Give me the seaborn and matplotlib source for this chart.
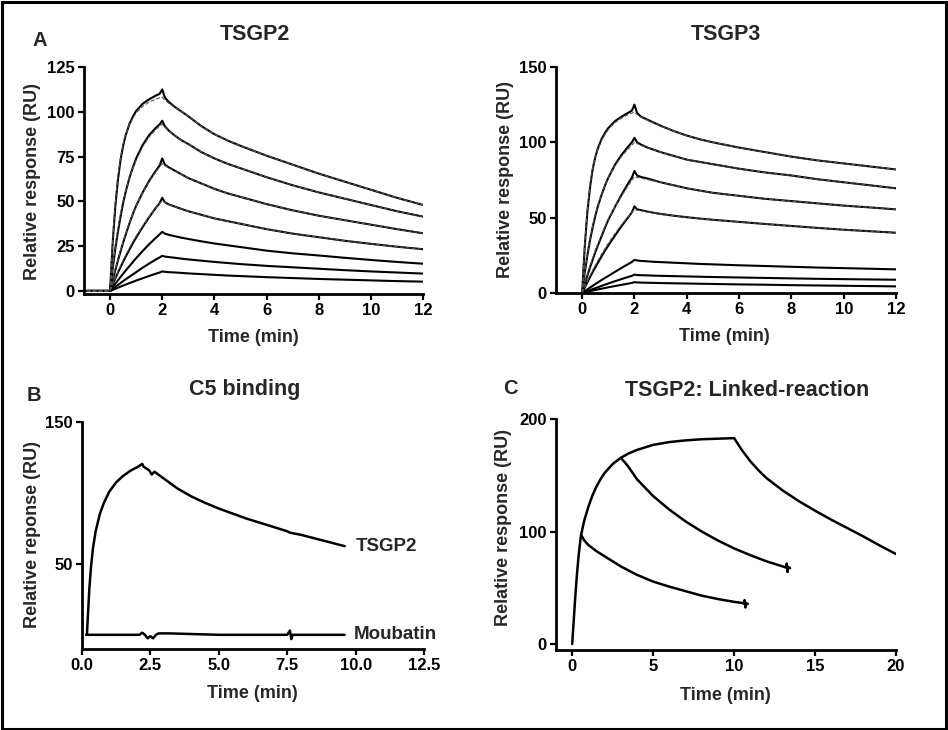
import numpy as np
import pandas as pd
import matplotlib
matplotlib.use('Agg')
import matplotlib.pyplot as plt
import seaborn as sns
from matplotlib.patches import Rectangle

# ---------------- data ----------------
# Panel A, TSGP2 sensorgrams (time in min, response in RU)
t_tsgp2 = [-0.9, 0, 0.05, 0.1, 0.2, 0.3, 0.4, 0.5, 0.6, 0.75, 0.9, 1.0, 1.25, 1.5, 1.75, 1.9, 2.0,
           2.1, 2.25, 2.5, 2.75, 3, 3.5, 4, 4.5, 5, 6, 7, 8, 9, 10, 11, 12]
tsgp2_c1 = [0, 0, 14, 27, 47, 62, 73, 81, 87, 93.5, 98, 100.5, 104.5, 107, 109, 110, 112.5,
            108, 105.5, 102.5, 100, 97.5, 92, 87.5, 84, 81, 75.5, 70.5, 65.5, 61, 56.5, 52, 48]
tsgp2_c2 = [0, 0, 6.5, 12.5, 23.5, 33, 41.5, 49, 55.5, 63.5, 70, 74, 81.5, 87, 91, 93, 95,
            92, 89.5, 86.5, 84, 82, 77.5, 74, 71, 68.5, 63.5, 59, 55, 51.5, 48, 44.5, 41.5]
tsgp2_c3 = [0, 0, 3, 6, 11.5, 17, 22, 27, 31.5, 38, 44, 47.5, 55, 61.5, 67, 70, 74,
            70.5, 69, 67, 65, 63, 60, 57, 54.5, 52.5, 48.5, 45, 42, 39.5, 37, 34.5, 32.2]
tsgp2_c4 = [0, 0, 1.8, 3.5, 7, 10.2, 13.3, 16.3, 19.2, 23.3, 27.3, 29.8, 35.7, 41.2, 46.3, 49, 52,
            49.5, 48.3, 47, 45.7, 44.5, 42.5, 40.5, 39, 37.5, 34.5, 32, 30, 28, 26.3, 24.7, 23.3]
tsgp2_c5 = [0, 0, 1, 2, 4, 5.9, 7.8, 9.6, 11.4, 14, 16.6, 18.3, 22.3, 26.1, 29.6, 31.6, 33,
            32, 31.3, 30.5, 29.7, 29, 27.7, 26.5, 25.5, 24.5, 22.5, 21, 19.8, 18.5, 17.3, 16.2, 15.2]
tsgp2_c6 = [0, 0, 0.55, 1.1, 2.2, 3.3, 4.4, 5.5, 6.5, 8, 9.5, 10.5, 13, 15.3, 17.5, 18.7, 19.6,
            19.2, 18.9, 18.5, 18, 17.6, 16.9, 16.2, 15.6, 15, 14, 13.2, 12.4, 11.6, 10.9, 10.3, 9.7]
tsgp2_c7 = [0, 0, 0.3, 0.6, 1.2, 1.8, 2.4, 3, 3.6, 4.4, 5.2, 5.8, 7.1, 8.4, 9.6, 10.3, 10.9,
            10.7, 10.5, 10.3, 10.05, 9.8, 9.4, 9.0, 8.6, 8.3, 7.7, 7.2, 6.7, 6.3, 5.9, 5.5, 5.2]
# fitted curves (dashed)
tsgp2_f1 = [0, 0, 15, 28.5, 49, 64, 74.5, 82, 87.5, 93, 97, 99.5, 103, 105.5, 107, 107.8, 108.2,
            106.5, 104.8, 102.3, 100, 97.5, 92, 87.5, 84, 81, 75.5, 70.5, 65.5, 61, 56.5, 52, 48]
tsgp2_f2 = [0, 0, 7, 13.5, 25, 34.5, 43, 50, 56, 63.5, 69.5, 73, 80.5, 86, 90, 92, 93,
            91.5, 89.3, 86.5, 84, 82, 77.5, 74, 71, 68.5, 63.5, 59, 55, 51.5, 48, 44.5, 41.5]
tsgp2_f3 = [0, 0, 3.2, 6.3, 12, 17.5, 22.5, 27.5, 32, 38.3, 44, 47.5, 54.8, 61, 66.3, 69.2, 71,
            70, 68.7, 66.8, 65, 63, 60, 57, 54.5, 52.5, 48.5, 45, 42, 39.5, 37, 34.5, 32.2]
tsgp2_f4 = [0, 0, 1.9, 3.7, 7.3, 10.7, 13.9, 17, 20, 24.2, 28.2, 30.6, 36.3, 41.5, 46.2, 48.8, 50.3,
            49.5, 48.3, 47, 45.7, 44.5, 42.5, 40.5, 39, 37.5, 34.5, 32, 30, 28, 26.3, 24.7, 23.3]

# Panel A, TSGP3 sensorgrams
t_tsgp3 = [0, 0.05, 0.1, 0.2, 0.3, 0.4, 0.5, 0.6, 0.75, 0.9, 1.0, 1.25, 1.5, 1.75, 1.9, 2.0,
           2.1, 2.25, 2.5, 2.75, 3, 3.5, 4, 4.5, 5, 6, 7, 8, 9, 10, 11, 12]
tsgp3_c1 = [0, 16, 31, 54, 70, 82, 90, 96, 102.5, 107, 109.5, 114, 117, 119.5, 121, 125,
            119.5, 117, 115, 113, 111, 107.5, 104.5, 102, 100, 96.5, 93.5, 90.5, 88, 86, 84, 82]
tsgp3_c2 = [0, 7, 13.5, 25, 35, 43.5, 51, 57.5, 65.5, 72.5, 76.5, 85, 91.5, 97, 100, 103,
            100, 98.5, 96.5, 95, 93.5, 91, 88.5, 87, 85.5, 82.5, 80, 78, 75.5, 73.5, 71.5, 69.5]
tsgp3_c3 = [0, 3, 6, 11.5, 17, 22, 27, 31.5, 38, 44.5, 48.5, 57, 65, 72.5, 76.5, 81,
            78, 77, 76, 74.7, 73.5, 71.5, 69.5, 68, 66.5, 64.5, 62.5, 61, 59.5, 58, 56.8, 55.5]
tsgp3_c4 = [0, 1.8, 3.6, 7.1, 10.5, 13.8, 17, 20, 24.5, 28.8, 31.5, 38, 44.2, 50, 53.5, 57.5,
            55.5, 55, 54, 53.2, 52.5, 51.3, 50.3, 49.4, 48.6, 47.2, 45.8, 44.5, 43.2, 42, 41, 40]
tsgp3_c5 = [0, 0.6, 1.2, 2.4, 3.6, 4.7, 5.9, 7, 8.7, 10.3, 11.3, 14, 16.6, 19.1, 20.6, 22,
            21.6, 21.3, 21, 20.7, 20.5, 20.1, 19.7, 19.3, 19, 18.4, 17.9, 17.4, 16.9, 16.5, 16.1, 15.7]
tsgp3_c6 = [0, 0.35, 0.7, 1.3, 1.9, 2.6, 3.2, 3.8, 4.8, 5.7, 6.3, 7.8, 9.2, 10.6, 11.4, 12.2,
            11.9, 11.8, 11.7, 11.5, 11.4, 11.2, 11, 10.8, 10.6, 10.3, 10, 9.7, 9.4, 9.2, 9, 8.8]
tsgp3_c7 = [0, 0.2, 0.4, 0.8, 1.2, 1.6, 2, 2.35, 2.9, 3.4, 3.8, 4.6, 5.4, 6.2, 6.7, 7.2,
            7.0, 6.9, 6.8, 6.7, 6.6, 6.45, 6.3, 6.15, 6, 5.7, 5.5, 5.2, 5.0, 4.8, 4.6, 4.4]
tsgp3_f1 = [0, 17, 32.5, 56, 71.5, 82.5, 90, 95.5, 101.5, 106, 108.5, 113, 116, 118.3, 119.4, 120,
            118.5, 116.8, 114.6, 112.7, 110.8, 107.5, 104.5, 102, 100, 96.5, 93.5, 90.5, 88, 86, 84, 82]
tsgp3_f2 = [0, 7.5, 14.5, 26, 36, 44.5, 52, 58, 66, 72.5, 76.5, 84.5, 90.5, 95.5, 98.2, 100,
            99.2, 98, 96.3, 94.8, 93.5, 91, 88.5, 87, 85.5, 82.5, 80, 78, 75.5, 73.5, 71.5, 69.5]
tsgp3_f3 = [0, 3.3, 6.5, 12.5, 18, 23, 28, 32.5, 39, 45, 48.8, 57, 64.3, 71, 74.8, 77.2,
            76.8, 76.2, 75.3, 74.4, 73.5, 71.5, 69.5, 68, 66.5, 64.5, 62.5, 61, 59.5, 58, 56.8, 55.5]
tsgp3_f4 = [0, 2, 4, 7.8, 11.5, 15, 18.3, 21.5, 26, 30.3, 33, 39.3, 45.2, 50.5, 53.5, 55.3,
            55, 54.6, 53.9, 53.2, 52.5, 51.3, 50.3, 49.4, 48.6, 47.2, 45.8, 44.5, 43.2, 42, 41, 40]

# Panel B, C5 binding
t_b_tsgp2 = [0.18, 0.22, 0.27, 0.33, 0.4, 0.5, 0.65, 0.8, 1.0, 1.25, 1.5, 1.8, 2.05, 2.2, 2.25, 2.45, 2.55,
             2.65, 2.75, 3.0, 3.5, 4.0, 4.5, 5.0, 5.5, 6.0, 6.5, 7.0, 7.5, 7.6, 8.0, 8.5, 9.0, 9.6]
v_b_tsgp2 = [0, 15, 33, 48, 61, 73, 85, 93, 101, 107.5, 112, 116, 118.5, 120.5, 118.5, 116, 113,
             115, 113.5, 110, 103, 97.5, 93, 89, 85.5, 82, 79, 76, 73, 72, 70.5, 68, 65.5, 62.5]
t_b_moub = [0.15, 2.1, 2.2, 2.3, 2.4, 2.5, 2.6, 2.7, 2.8, 3.2, 5.0, 7.5, 7.6, 7.65, 7.7, 9.6]
v_b_moub = [0, 0, 1.5, 0, -2.5, -1, -2.5, 0, 1, 1, 0, 0, 3, -3, 0, 0]
b_labels = ['TSGP2', 'Moubatin']

# Panel C, linked reaction
t_c_assoc = [0, 0.1, 0.2, 0.3, 0.4, 0.5, 0.55, 0.75, 1.0, 1.25, 1.5, 1.75, 2.0, 2.5, 3.0, 3.5, 4.0,
             5.0, 6.0, 7.0, 8.0, 9.0, 10.0]
v_c_assoc = [0, 22, 44, 63, 79, 92, 97, 110, 122, 132, 140, 146.5, 152, 160, 165.5, 169.5, 172.5,
             177, 179.5, 181, 182, 182.5, 183]
t_c_d1 = [0.55, 0.75, 1.0, 1.5, 2.0, 2.5, 3.0, 4.0, 5.0, 6.0, 7.0, 8.0, 9.0, 10.0, 10.5,
          10.6, 10.65, 10.7, 10.75, 10.85]
v_c_d1 = [97, 92, 88, 82.5, 78, 73.5, 69, 61.5, 55.5, 51, 47, 43, 40, 37.5, 36.5,
          36, 39, 32.5, 36.5, 35.5]
t_c_d2 = [3.0, 3.25, 3.5, 4.0, 4.5, 5.0, 6.0, 7.0, 8.0, 9.0, 10.0, 11.0, 12.0, 13.0,
          13.1, 13.2, 13.25, 13.3, 13.35, 13.45]
v_c_d2 = [165.5, 161.5, 157, 146.5, 139, 131.5, 119.5, 109, 100, 92, 85, 79, 73.5, 69,
          68.5, 68, 71.5, 64, 68.5, 67.5]
t_c_d3 = [10, 10.25, 10.5, 11, 11.5, 12, 13, 14, 15, 16, 17, 18, 19, 20]
v_c_d3 = [183, 177.5, 172, 162.5, 154.5, 147.5, 136.5, 127, 118.5, 110.5, 103, 95.5, 87.5, 80]


def long_df(t, curves):
    rows = []
    for i, c in enumerate(curves):
        for tt, vv in zip(t, c):
            rows.append((tt, vv, i))
    return pd.DataFrame(rows, columns=['t', 'v', 'curve'])


def long_df_multi(pairs):
    rows = []
    for i, (t, c) in enumerate(pairs):
        for tt, vv in zip(t, c):
            rows.append((tt, vv, i))
    return pd.DataFrame(rows, columns=['t', 'v', 'curve'])


# ---------------- style ----------------
sns.set_style('ticks')
plt.rcParams['font.family'] = ['Liberation Sans', 'DejaVu Sans']
plt.rcParams['font.weight'] = 'bold'
plt.rcParams['axes.labelweight'] = 'bold'

W, H = 948, 730
fig = plt.figure(figsize=(W / 100, H / 100), dpi=100)
fig.patch.set_facecolor('white')


def rect(l, t, r, b):
    return [l / W, 1 - b / H, (r - l) / W, (b - t) / H]


def style_ax(ax):
    sns.despine(ax=ax)
    for s in ['left', 'bottom']:
        ax.spines[s].set_linewidth(2.0)
        ax.spines[s].set_color('black')
    ax.tick_params(direction='out', length=4.5, width=1.6, labelsize=12, colors='black', pad=2)
    for lab in ax.get_xticklabels() + ax.get_yticklabels():
        lab.set_fontweight('bold')
    ax.set_xlabel('')
    ax.set_ylabel('')
    ax.set_facecolor('white')


def ftext(x, y, s, size, **kw):
    fig.text(x / W, 1 - y / H, s, fontsize=size, fontweight='bold', ha=kw.pop('ha', 'center'),
             va=kw.pop('va', 'center'), **kw)


# Panel A1
ax1 = fig.add_axes(rect(84, 67, 423, 294))
df = long_df(t_tsgp2, [tsgp2_c1, tsgp2_c2, tsgp2_c3, tsgp2_c4, tsgp2_c5, tsgp2_c6, tsgp2_c7])
dff = long_df(t_tsgp2, [tsgp2_f1, tsgp2_f2, tsgp2_f3, tsgp2_f4])
sns.lineplot(data=df, x='t', y='v', units='curve', estimator=None, color='black', lw=1.5,
             sort=False, legend=False, ax=ax1)
sns.lineplot(data=dff, x='t', y='v', units='curve', estimator=None, color='#555555', lw=0.8,
             linestyle='--', sort=False, legend=False, ax=ax1)
ax1.set_xlim(-1, 12)
ax1.set_ylim(-1.7, 125)
ax1.set_xticks([0, 2, 4, 6, 8, 10, 12])
ax1.set_yticks([0, 25, 50, 75, 100, 125])
style_ax(ax1)

# Panel A2
ax2 = fig.add_axes(rect(556, 67, 896, 293))
df = long_df(t_tsgp3, [tsgp3_c1, tsgp3_c2, tsgp3_c3, tsgp3_c4, tsgp3_c5, tsgp3_c6, tsgp3_c7])
dff = long_df(t_tsgp3, [tsgp3_f1, tsgp3_f2, tsgp3_f3, tsgp3_f4])
sns.lineplot(data=df, x='t', y='v', units='curve', estimator=None, color='black', lw=1.5,
             sort=False, legend=False, ax=ax2)
sns.lineplot(data=dff, x='t', y='v', units='curve', estimator=None, color='#555555', lw=0.8,
             linestyle='--', sort=False, legend=False, ax=ax2)
ax2.set_xlim(-1, 12)
ax2.set_ylim(0, 150)
ax2.set_xticks([0, 2, 4, 6, 8, 10, 12])
ax2.set_yticks([0, 50, 100, 150])
style_ax(ax2)

# Panel B
ax3 = fig.add_axes(rect(82, 422, 424, 649))
df = long_df_multi([(t_b_tsgp2, v_b_tsgp2), (t_b_moub, v_b_moub)])
sns.lineplot(data=df, x='t', y='v', units='curve', estimator=None, color='black', lw=1.8,
             sort=False, legend=False, ax=ax3)
ax3.set_xlim(0, 12.5)
ax3.set_ylim(-10, 150)
ax3.set_xticks([0, 2.5, 5.0, 7.5, 10.0, 12.5])
ax3.set_yticks([50, 150])
style_ax(ax3)
ax3.text(10.0, v_b_tsgp2[-1], b_labels[0], fontsize=13.5, fontweight='bold', ha='left', va='center')
ax3.text(9.93, v_b_moub[-1], b_labels[1], fontsize=13.5, fontweight='bold', ha='left', va='center')

# Panel C
ax4 = fig.add_axes(rect(556, 419, 896, 650))
df = long_df_multi([(t_c_assoc, v_c_assoc), (t_c_d1, v_c_d1), (t_c_d2, v_c_d2), (t_c_d3, v_c_d3)])
sns.lineplot(data=df, x='t', y='v', units='curve', estimator=None, color='black', lw=1.8,
             sort=False, legend=False, ax=ax4)
ax4.set_xlim(-1, 20)
ax4.set_ylim(-5.3, 200)
ax4.set_xticks([0, 5, 10, 15, 20])
ax4.set_yticks([0, 100, 200])
style_ax(ax4)

# titles, panel letters, axis labels
ftext(40, 40, 'A', 14.5)
ftext(255, 34, 'TSGP2', 15.5)
ftext(726, 34, 'TSGP3', 15.5)
ftext(34, 395, 'B', 14.5)
ftext(245, 389, 'C5 binding', 15.5)
ftext(510, 389, 'C', 14.5)
ftext(747, 390, 'TSGP2: Linked-reaction', 15.5)

ftext(253, 338, 'Time (min)', 13)
ftext(724, 337, 'Time (min)', 13)
ftext(252, 693, 'Time (min)', 13)
ftext(725, 695, 'Time (min)', 13)

ftext(33, 182, 'Relative response (RU)', 13, rotation=90)
ftext(506, 180, 'Relative response (RU)', 13, rotation=90)
ftext(33, 535, 'Relative reponse (RU)', 13, rotation=90)
ftext(504, 528, 'Relative response (RU)', 13, rotation=90)

# frame around the figure
fig.add_artist(Rectangle((1.5 / W, 1.5 / H), 1 - 3.5 / W, 1 - 3.5 / H, transform=fig.transFigure,
                         fill=False, edgecolor='black', linewidth=2.2))

fig.savefig('out.png', dpi=100, facecolor='white')
